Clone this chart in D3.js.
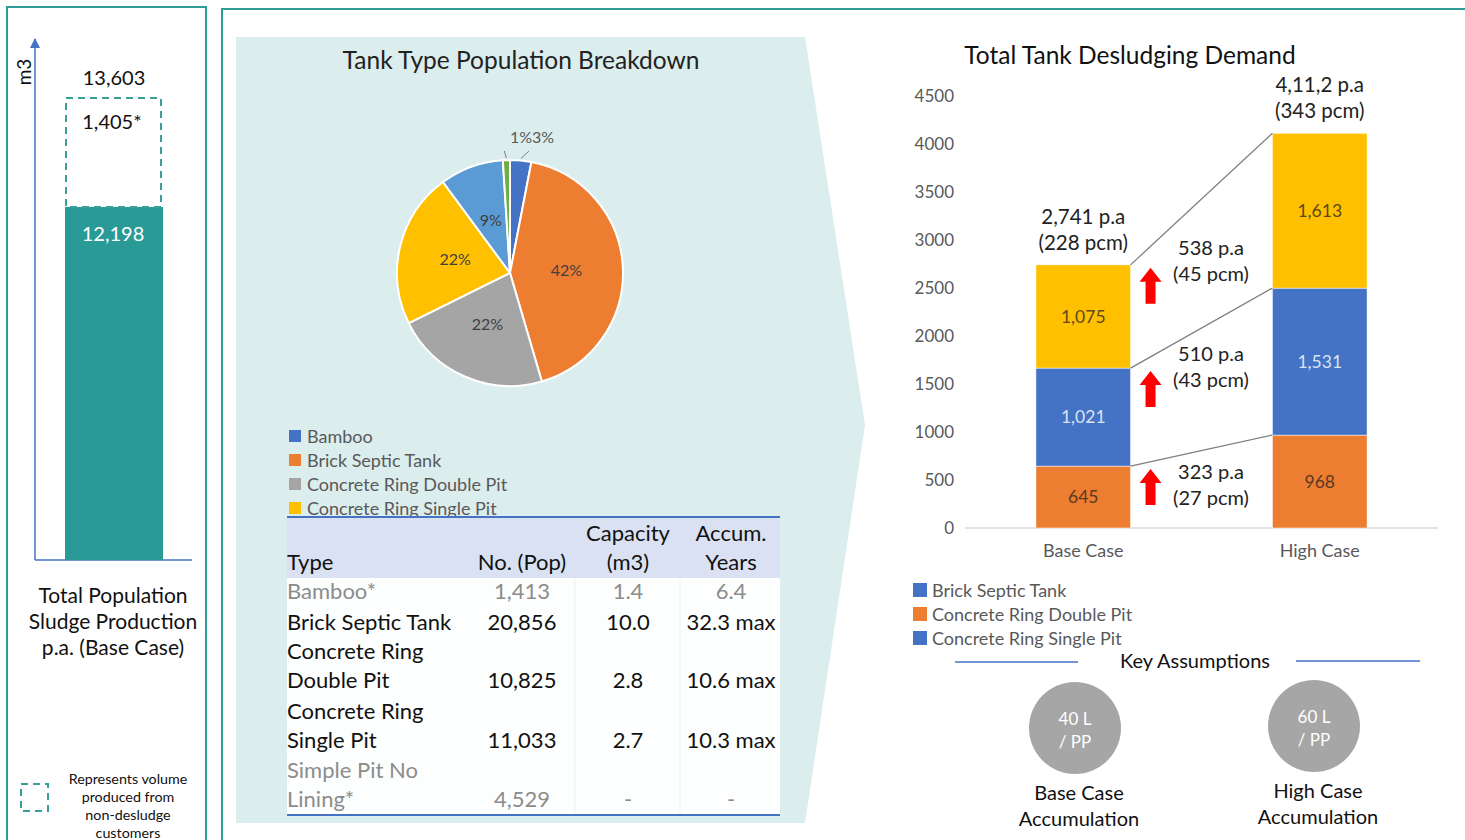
<!DOCTYPE html>
<html>
<head>
<meta charset="utf-8">
<title>Sludge production and desludging demand</title>
<script src="https://d3js.org/d3.v7.min.js"></script>
<style>
body { margin: 0; background: #fff; }
svg { display: block; font-family: Lato, "Open Sans", sans-serif; }
</style>
</head>
<body>
<svg id="chart" width="1465" height="840"></svg>
<script>
// ---- data ----
var prodParts = ["Desludge customers", "Non-desludge customers"];
var prodValues = [12198, 1405];
var prodLabels = ["12,198", "1,405*"];
var prodTotal = "13,603";

var pieNames = ["Bamboo", "Brick Septic Tank", "Concrete Ring Double Pit", "Concrete Ring Single Pit", "Simple Pit No Lining", "Other"];
var piePct = [3, 42, 22, 22, 9, 1];
var pieColors = ["#4472c4", "#ed7d31", "#a5a5a5", "#ffc000", "#5b9bd5", "#70ad47"];
var pieLegend = ["Bamboo", "Brick Septic Tank", "Concrete Ring Double Pit", "Concrete Ring Single Pit"];

var tableHead = [["", "Type"], ["", "No. (Pop)"], ["Capacity", "(m3)"], ["Accum.", "Years"]];
var tableType = [["Bamboo*"], ["Brick Septic Tank"], ["Concrete Ring", "Double Pit"], ["Concrete Ring", "Single Pit"], ["Simple Pit No", "Lining*"]];
var tablePop = ["1,413", "20,856", "10,825", "11,033", "4,529"];
var tableCap = ["1.4", "10.0", "2.8", "2.7", "-"];
var tableYears = ["6.4", "32.3 max", "10.6 max", "10.3 max", "-"];
var tableFaded = [true, false, false, false, true];

var cases = ["Base Case", "High Case"];
var doublePit = [645, 968];
var septic = [1021, 1531];
var singlePit = [1075, 1613];
var totalLabels = [["2,741 p.a", "(228 pcm)"], ["4,11,2 p.a", "(343 pcm)"]];
var increaseLabels = [["323 p.a", "(27 pcm)"], ["510 p.a", "(43 pcm)"], ["538 p.a", "(45 pcm)"]];
var yTicks = [0, 500, 1000, 1500, 2000, 2500, 3000, 3500, 4000, 4500];
var barLegend = [["Brick Septic Tank", "#4472c4"], ["Concrete Ring Double Pit", "#ed7d31"], ["Concrete Ring Single Pit", "#4472c4"]];

var assumptions = [["40 L", "/ PP", "Base Case", "Accumulation"], ["60 L", "/ PP", "High Case", "Accumulation"]];

var svg = d3.select("#chart");
var teal = "#2f9c98";

// ---- frames ----
svg.append("rect").attr("x", 7).attr("y", 7).attr("width", 199).attr("height", 850)
  .attr("fill", "none").attr("stroke", teal).attr("stroke-width", 2);
svg.append("rect").attr("x", 222).attr("y", 9).attr("width", 1260).attr("height", 850)
  .attr("fill", "none").attr("stroke", teal).attr("stroke-width", 2);

// ---- left panel: total production ----
var py = d3.scaleLinear().domain([0, prodValues[0], prodValues[0] + prodValues[1]]).range([560, 207, 98]);
var left = svg.append("g");
left.append("defs").append("marker").attr("id", "ah").attr("viewBox", "0 0 10 10")
  .attr("refX", 9).attr("refY", 5).attr("markerWidth", 12).attr("markerHeight", 10)
  .attr("markerUnits", "userSpaceOnUse").attr("orient", "auto")
  .append("path").attr("d", "M0,0 L10,5 L0,10 Z").attr("fill", "#4472c4");
left.append("line").attr("x1", 35).attr("x2", 35).attr("y1", 560).attr("y2", 39)
  .attr("stroke", "#4472c4").attr("stroke-width", 1.5).attr("marker-end", "url(#ah)");
left.append("line").attr("x1", 35).attr("x2", 192).attr("y1", 560).attr("y2", 560)
  .attr("stroke", "#4472c4").attr("stroke-width", 1.5);
left.append("text").attr("transform", "translate(31,72) rotate(-90)").attr("text-anchor", "middle")
  .attr("font-size", 19).attr("fill", "#111").text("m3");

left.append("rect").attr("x", 65).attr("width", 98)
  .attr("y", py(prodValues[0])).attr("height", py(0) - py(prodValues[0])).attr("fill", "#2a9a97");
left.append("rect").attr("x", 66).attr("width", 95)
  .attr("y", py(prodValues[0] + prodValues[1])).attr("height", py(prodValues[0]) - py(prodValues[0] + prodValues[1]))
  .attr("fill", "none").attr("stroke", "#3a9e9a").attr("stroke-width", 2).attr("stroke-dasharray", "7,5");
left.append("text").attr("x", 113).attr("y", py(prodValues[0]) + 34).attr("text-anchor", "middle")
  .attr("font-size", 20).attr("fill", "#fff").text(prodLabels[0]);
left.append("text").attr("x", 112).attr("y", py(prodValues[0] + prodValues[1]) + 31).attr("text-anchor", "middle")
  .attr("font-size", 20).attr("fill", "#111").text(prodLabels[1]);
left.append("text").attr("x", 114).attr("y", py(prodValues[0] + prodValues[1]) - 13).attr("text-anchor", "middle")
  .attr("font-size", 20).attr("fill", "#111").text(prodTotal);

["Total Population", "Sludge Production", "p.a. (Base Case)"].forEach(function (t, i) {
  left.append("text").attr("x", 113).attr("y", 603 + i * 26).attr("text-anchor", "middle")
    .attr("font-size", 21).attr("fill", "#111").text(t);
});
left.append("rect").attr("x", 21).attr("y", 784).attr("width", 27).attr("height", 27)
  .attr("fill", "none").attr("stroke", "#3a9e9a").attr("stroke-width", 2).attr("stroke-dasharray", "7,5");
["Represents volume", "produced from", "non-desludge", "customers"].forEach(function (t, i) {
  left.append("text").attr("x", 128).attr("y", 784 + i * 18).attr("text-anchor", "middle")
    .attr("font-size", 14.3).attr("fill", "#111").text(t);
});

// ---- middle panel: pie + table ----
svg.append("path").attr("d", "M236,37 L805,37 L865,425 L805,823 L236,823 Z").attr("fill", "#dcedee");
svg.append("text").attr("x", 521).attr("y", 69).attr("text-anchor", "middle")
  .attr("font-size", 24.5).attr("fill", "#222").text("Tank Type Population Breakdown");

var pieG = svg.append("g").attr("transform", "translate(510,273)");
var pie = d3.pie().sort(null).value(function (d) { return d; });
var arcs = pie(piePct);
var R = 113;
var arc = d3.arc().innerRadius(0).outerRadius(R);
pieG.selectAll("path.slice").data(arcs).enter().append("path").attr("class", "slice")
  .attr("d", arc).attr("fill", function (d, i) { return pieColors[i]; })
  .attr("stroke", "#fff").attr("stroke-width", 2);
var labelArc = d3.arc().innerRadius(R / 2).outerRadius(R / 2);
pieG.selectAll("text.in").data(arcs.filter(function (d) { return d.data >= 5; })).enter().append("text")
  .attr("class", "in")
  .attr("transform", function (d) { return "translate(" + labelArc.centroid(d) + ")"; })
  .attr("text-anchor", "middle").attr("dy", "0.35em")
  .attr("font-size", 16).attr("fill", "#404040").text(function (d) { return d.data + "%"; });
// small slices get labels outside with leader lines, "1%" ends where "3%" starts
var small = arcs.filter(function (d) { return d.data < 5; });
var outerArc = d3.arc().innerRadius(R + 2).outerRadius(R + 2);
small.forEach(function (d) {
  var c = outerArc.centroid(d);
  var isLast = d.index === arcs.length - 1;
  var ly = -R - 17;
  pieG.append("line").attr("x1", c[0]).attr("y1", c[1]).attr("x2", isLast ? c[0] - 2 : c[0] + 8).attr("y2", ly + 8)
    .attr("stroke", "#7f7f7f").attr("stroke-width", 1);
  pieG.append("text").attr("x", 22).attr("y", ly).attr("text-anchor", isLast ? "end" : "start")
    .attr("font-size", 16).attr("fill", "#595959").text(d.data + "%");
});

var pl = svg.append("g");
pieLegend.forEach(function (t, i) {
  pl.append("rect").attr("x", 289).attr("y", 430 + i * 24).attr("width", 12).attr("height", 12)
    .attr("fill", pieColors[i]);
  pl.append("text").attr("x", 307).attr("y", 443 + i * 24).attr("font-size", 18).attr("fill", "#595959").text(t);
});

// table
var tb = svg.append("g");
var colX = [287, 522, 628, 731];
tb.append("rect").attr("x", 287).attr("y", 518).attr("width", 493).attr("height", 60).attr("fill", "#d9e1f2");
tb.append("rect").attr("x", 287).attr("y", 578).attr("width", 493).attr("height", 236).attr("fill", "#fdfefe");
[575, 680].forEach(function (x) {
  tb.append("line").attr("x1", x).attr("x2", x).attr("y1", 578).attr("y2", 814).attr("stroke", "#edf1f4");
});
tb.append("line").attr("x1", 287).attr("x2", 780).attr("y1", 517).attr("y2", 517).attr("stroke", "#4472c4").attr("stroke-width", 2);
tb.append("line").attr("x1", 287).attr("x2", 780).attr("y1", 815).attr("y2", 815).attr("stroke", "#4472c4").attr("stroke-width", 2);
tableHead.forEach(function (h, j) {
  h.forEach(function (t, k) {
    tb.append("text").attr("x", colX[j]).attr("y", 541 + k * 29)
      .attr("text-anchor", j === 0 ? "start" : "middle")
      .attr("font-size", 22).attr("fill", "#111").text(t);
  });
});
var rowY = [599, 630, 688, 748, 807];
tableType.forEach(function (lines, i) {
  var col = tableFaded[i] ? "#8c8c8c" : "#111";
  lines.forEach(function (t, k) {
    tb.append("text").attr("x", colX[0]).attr("y", rowY[i] - (lines.length - 1 - k) * 29)
      .attr("font-size", 22).attr("fill", col).text(t);
  });
  [tablePop[i], tableCap[i], tableYears[i]].forEach(function (t, j) {
    tb.append("text").attr("x", colX[j + 1]).attr("y", rowY[i]).attr("text-anchor", "middle")
      .attr("font-size", 22).attr("fill", col).text(t);
  });
});

// ---- right panel: stacked bars ----
svg.append("text").attr("x", 1130).attr("y", 64).attr("text-anchor", "middle")
  .attr("font-size", 24.5).attr("fill", "#111").text("Total Tank Desludging Demand");

var y = d3.scaleLinear().domain([0, 4500]).range([528, 96]);
var x = d3.scaleBand().domain(cases).range([965, 1438]).paddingInner(0.6).paddingOuter(0.3);
var rows = cases.map(function (c, i) { return { case: c, dbl: doublePit[i], sep: septic[i], sgl: singlePit[i] }; });
var keys = ["dbl", "sep", "sgl"];
var keyColor = { dbl: "#ed7d31", sep: "#4472c4", sgl: "#ffc000" };
var keyText = { dbl: "#5a3a22", sep: "#dae3f3", sgl: "#5c4a1c" };
var stacked = d3.stack().keys(keys)(rows);

var bc = svg.append("g");
bc.selectAll("text.ytick").data(yTicks).enter().append("text").attr("class", "ytick")
  .attr("x", 954).attr("y", function (d) { return y(d); }).attr("dy", "0.35em").attr("text-anchor", "end")
  .attr("font-size", 17).attr("fill", "#595959").text(function (d) { return d; });
bc.append("line").attr("x1", 965).attr("x2", 1438).attr("y1", y(0)).attr("y2", y(0)).attr("stroke", "#d9d9d9").attr("stroke-width", 1.5);

stacked.forEach(function (layer) {
  var g = bc.append("g");
  g.selectAll("rect").data(layer).enter().append("rect")
    .attr("x", function (d) { return x(d.data.case); }).attr("width", x.bandwidth())
    .attr("y", function (d) { return y(d[1]); }).attr("height", function (d) { return y(d[0]) - y(d[1]); })
    .attr("fill", keyColor[layer.key]).attr("stroke", "#fff").attr("stroke-width", 0.5);
  g.selectAll("text").data(layer).enter().append("text")
    .attr("x", function (d) { return x(d.data.case) + x.bandwidth() / 2; })
    .attr("y", function (d) { return (y(d[0]) + y(d[1])) / 2; }).attr("dy", "0.35em")
    .attr("text-anchor", "middle").attr("font-size", 17.5).attr("fill", keyText[layer.key])
    .text(function (d) { return d3.format(",")(d[1] - d[0]); });
});

// connector lines between segment tops
var bx0 = x(cases[0]) + x.bandwidth(), bx1 = x(cases[1]);
stacked.forEach(function (layer) {
  bc.append("line").attr("x1", bx0).attr("y1", y(layer[0][1])).attr("x2", bx1).attr("y2", y(layer[1][1]))
    .attr("stroke", "#7f7f7f").attr("stroke-width", 1.3);
});

// totals above bars
rows.forEach(function (r, i) {
  var top = y(stacked[2][i][1]);
  totalLabels[i].forEach(function (t, k) {
    bc.append("text").attr("x", x(r.case) + x.bandwidth() / 2).attr("y", top - 41 + k * 26)
      .attr("text-anchor", "middle").attr("font-size", 20.5).attr("fill", "#222").text(t);
  });
});

// increase arrows + labels
var labelShift = [-2, -22, -25];
stacked.forEach(function (layer, i) {
  var tip = y(layer[0][1]) + 3;
  var ax = bx0 + 20;
  bc.append("path")
    .attr("d", "M" + ax + "," + tip + " l11,14 h-6 v22 h-10 v-22 h-6 Z")
    .attr("fill", "#ff0000");
  var mid = tip + 18 + labelShift[i];
  increaseLabels[i].forEach(function (t, k) {
    bc.append("text").attr("x", 1211).attr("y", mid - 13 + k * 26).attr("dy", "0.35em")
      .attr("text-anchor", "middle").attr("font-size", 20).attr("fill", "#222").text(t);
  });
});

bc.selectAll("text.xlab").data(cases).enter().append("text").attr("class", "xlab")
  .attr("x", function (d) { return x(d) + x.bandwidth() / 2; }).attr("y", 557)
  .attr("text-anchor", "middle").attr("font-size", 18).attr("fill", "#595959").text(function (d) { return d; });

barLegend.forEach(function (l, i) {
  bc.append("rect").attr("x", 913).attr("y", 583 + i * 24).attr("width", 14).attr("height", 14).attr("fill", l[1]);
  bc.append("text").attr("x", 932).attr("y", 597 + i * 24).attr("font-size", 18).attr("fill", "#595959").text(l[0]);
});

// ---- key assumptions ----
var ka = svg.append("g");
ka.append("line").attr("x1", 955).attr("x2", 1078).attr("y1", 662).attr("y2", 662).attr("stroke", "#4472c4").attr("stroke-width", 1.5);
ka.append("line").attr("x1", 1296).attr("x2", 1420).attr("y1", 661).attr("y2", 661).attr("stroke", "#4472c4").attr("stroke-width", 1.5);
ka.append("text").attr("x", 1195).attr("y", 668).attr("text-anchor", "middle").attr("font-size", 20).attr("fill", "#111").text("Key Assumptions");
var cx = [1075, 1314], cy = [728, 726];
assumptions.forEach(function (a, i) {
  ka.append("circle").attr("cx", cx[i]).attr("cy", cy[i]).attr("r", 46).attr("fill", "#a6a6a6");
  ka.append("text").attr("x", cx[i]).attr("y", cy[i] - 3).attr("text-anchor", "middle").attr("font-size", 17).attr("fill", "#fff").text(a[0]);
  ka.append("text").attr("x", cx[i]).attr("y", cy[i] + 20).attr("text-anchor", "middle").attr("font-size", 17).attr("fill", "#fff").text(a[1]);
  ka.append("text").attr("x", cx[i] + 4).attr("y", cy[i] + 72).attr("text-anchor", "middle").attr("font-size", 20).attr("fill", "#111").text(a[2]);
  ka.append("text").attr("x", cx[i] + 4).attr("y", cy[i] + 98).attr("text-anchor", "middle").attr("font-size", 20).attr("fill", "#111").text(a[3]);
});
</script>
</body>
</html>
